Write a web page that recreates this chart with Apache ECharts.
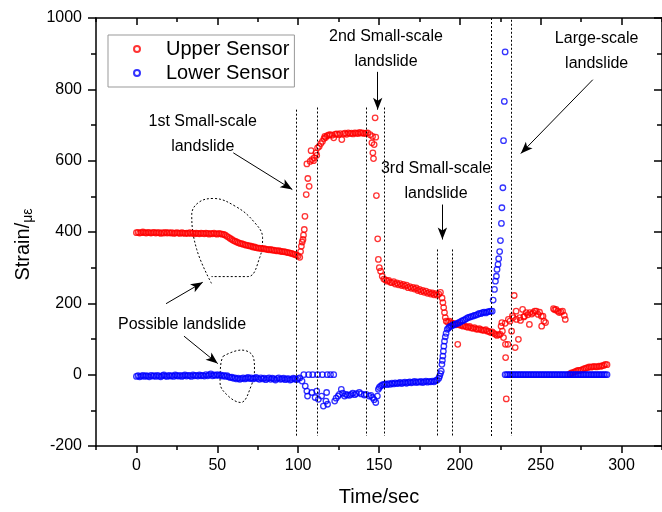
<!DOCTYPE html>
<html>
<head>
<meta charset="utf-8">
<script src="https://cdn.jsdelivr.net/npm/echarts@6.0.0/dist/echarts.min.js"></script>
<style>
  html, body { margin: 0; padding: 0; background: #fff; }
  #chart { width: 662px; height: 512px; }
</style>
</head>
<body>
<div id="chart"></div>
<script>
// tick positions
const xTicks = [0, 50, 100, 150, 200, 250, 300];
const xMinorTicks = [-25, 25, 75, 125, 175, 225, 275, 325];

// Upper Sensor (red)
const upperBase = [ // from t = 0, 1 s step
  398, 399, 397, 398, 400, 398, 397, 399, 398, 397, 398,
  399, 397, 398, 398, 396, 398, 397, 399, 397, 398,
  397, 398, 396, 397, 398, 397, 396, 398, 397, 396,
  397, 396, 398, 396, 397, 395, 397, 396, 395, 397,
  396, 395, 397, 396, 394, 396, 395, 397, 395, 394,
  396, 395, 394, 393, 391, 388, 385, 382, 379, 376,
  374, 372, 370, 368, 367, 366, 364, 363, 362, 361,
  360, 358, 358, 356, 355, 355, 354, 353, 353, 352,
  351, 350, 351, 349, 349, 348, 347, 348, 346, 345,
  345, 344, 343, 342, 341, 340, 338, 337, 335, 333,
  329
];
const upperRise1 = [
  [101.5, 345], [102, 360], [102.5, 372], [103, 379], [103.3, 391], [103.8, 407],
  [104.2, 444], [105, 505], [105.4, 591], [106, 550], [106.8, 528], [107.4, 598],
  [108, 628], [108.5, 603], [109.5, 600], [109.9, 608], [111, 622], [111.5, 615],
  [112, 636], [113, 640], [114, 648], [115, 654], [116, 662], [116.5, 668], [117, 665]
];
const upperPlateau = [ // from t = 118
  670, 672, 673, 671, 664, 674, 675, 673, 676, 659, 675, 677, 674,
  678, 676, 677, 675, 678, 677, 676, 679, 677, 678, 676, 677, 678
];
const upperDrop2 = [
  [144.5, 673], [145.6, 650], [146, 668], [146.2, 622], [146.6, 606], [147, 645],
  [147.6, 720], [148, 666], [148.4, 502], [149.2, 381], [149.6, 323], [150.2, 300],
  [151, 290], [152, 276], [153, 268]
];
const upperBand2 = [ // from t = 154
  266, 262, 264, 259, 258, 261, 254, 257, 252, 255, 250, 253, 248, 251, 244,
  247, 242, 245, 240, 243, 236, 239, 233, 236, 231, 234, 228, 231, 226, 229,
  224, 227, 223, 226, 231
];
const upperDrop3 = [
  [189, 215], [189.5, 202], [190, 188], [190.5, 174], [191, 160], [191.6, 150],
  [192.5, 148], [193.6, 150], [194.5, 146], [195.5, 144], [196.5, 143], [197.5, 140],
  [198.7, 85]
];
const upperBand3 = [ // from t = 199
  141, 139, 138, 136, 137, 134, 133, 135, 131, 130, 132, 128, 127, 129,
  126, 125, 124, 126, 122, 121, 118, 120, 116, 113, 110, 112, 113
];
const upperScatter = [
  [225.5, 136], [226, 146], [226.3, 122], [227, 104], [228, 144], [228.2, 85],
  [228.3, 48], [228.7, -68], [229.7, 85], [230, 155], [231, 150], [232, 122],
  [232.5, 165], [233, 160], [233.6, 222], [234.2, 76], [234.8, 178], [235, 155],
  [236.2, 99], [237, 160], [237.5, 152], [238.8, 183], [239.5, 162], [240, 164],
  [241, 174], [242, 168], [243, 141], [243.3, 174], [244.5, 170], [245.3, 174],
  [246.3, 178], [247.3, 178], [248.4, 169], [249.3, 175], [250.4, 164], [250.6, 136],
  [251.4, 164], [252, 150], [253, 146], [257.9, 185], [258.6, 182], [259.5, 183],
  [260.5, 178], [261.5, 174], [262.5, 176], [263.5, 178], [264.6, 166], [265.2, 155]
];
const upperTail = [ // from t = 268
  2, 5, 6, 8, 10, 12, 12, 13, 15, 17, 18, 20,
  22, 21, 22, 23, 22, 22, 24, 23, 25, 26, 29, 28
];

// Lower Sensor (blue)
const lowerBase = [ // from t = 0
  -5, -3, -6, -4, -2, -5, -3, -4, -6, -2, -4,
  -3, -5, -2, -4, -6, -3, -1, -4, -5, -2,
  -4, -3, -5, -1, -3, -4, -2, -5, -3, -1,
  -4, -2, -3, -5, -1, -3, -2, -4, -1, -3,
  -2, -4, 0, -3, -1, 2, -3, -1, -2, 0,
  -2, -1, -4, -2, -5, -3, -6, -8, -7, -10,
  -9, -12, -10, -13, -11, -9, -12, -10, -8, -11,
  -9, -12, -10, -8, -11, -13, -9, -12, -10, -14,
  -11, -9, -13, -10, -12, -15, -11, -9, -13, -12,
  -10, -14, -12, -11, -15, -13, -10, -12, -14, -11,
  -9
];
const lowerDip = [
  [102.4, -18], [103.5, 0], [104.4, -32], [105.4, -46], [105.8, -60], [106.5, 0],
  [108.5, -50], [109, 0], [110.5, -64], [111.5, -46], [112, 0], [112.5, -69],
  [114.5, -60], [115, 0], [115.6, -88], [117.2, -74], [117.6, -50], [118, 0],
  [118.2, -83], [120, 0], [122, 0], [122.6, -74], [123.5, -66], [124.7, -60],
  [125.5, -55], [126.7, -41], [127.5, -52], [128.7, -60], [129.5, -55], [130.5, -57],
  [131.8, -58], [132.8, -55], [133.8, -52], [135, -56], [136, -53], [137.8, -50],
  [139, -54], [140.9, -57], [142, -55], [143.9, -60], [145, -58], [146, -64],
  [147, -70], [148, -78], [149, -60], [149.6, -41], [150.2, -36], [151, -32],
  [152, -29], [153, -27]
];
const lowerBand2 = [ // from t = 154
  -26, -28, -25, -27, -24, -26, -23, -25, -24, -22, -25, -23, -21, -24, -22, -20, -23,
  -21, -19, -22, -20, -21, -19, -22, -20, -18, -21, -19, -20, -18, -20, -17, -15, -10
];
const lowerRise3 = [
  [187.5, -4], [188, 3], [188.5, 10], [188.9, 29], [189.2, 40], [189.5, 52],
  [189.8, 66], [190.1, 80], [190.5, 94], [191, 106], [191.5, 116], [192.2, 127],
  [193, 131], [193.6, 134], [194.5, 136], [195.5, 138]
];
const lowerBand3 = [ // from t = 196
  140, 141, 143, 145, 147, 150, 152, 154, 157, 160, 161, 163, 164,
  166, 167, 169, 172, 171, 174, 175, 173, 176, 177, 178, 178
];
const lowerRise4 = [
  [220.6, 209], [221.4, 239], [222, 262], [222.6, 276], [223, 295], [223.6, 309],
  [224, 325], [224.6, 345], [225.1, 376], [225.7, 424], [226, 468], [226.6, 524],
  [227, 656], [227.5, 766], [228, 905]
];
const lowerTail = [ // from t = 228
  0, 0, 0, 0, 0, 0, 0, 0, 0, 0, 0, 0, 0, 0, 0, 0,
  0, 0, 0, 0, 0, 0, 0, 0, 0, 0, 0, 0, 0, 0, 0, 0,
  0, 0, 0, 0, 0, 0, 0, 0, 0, 0, 0, 0, 0, 0, 0, 0,
  0, 0, 0, 0, 0, 0, 0, 0, 0, 0, 0, 0, 0, 0, 0, 0
];

// annotations (data coordinates)
const dashedLines = [
  [98.9, 743], [111.9, 749], [142.3, 749], [153.5, 749],
  [185.9, 351], [195.6, 351], [219.3, 1000], [231.7, 995]
];
const dashedBottom = -172;
const arrows = [
  [[59.9, 622], [96.4, 519]],
  [[149.2, 849], [149.2, 743]],
  [[189.2, 477], [189.2, 379]],
  [[282.2, 827], [237.7, 620]],
  [[18.3, 199], [41, 259]],
  [[29.4, 108], [50.3, 31]]
];
const notes = [
  ['1st Small-scale\nlandslide', 41, 675],
  ['2nd Small-scale\nlandslide', 154.3, 913],
  ['3rd Small-scale\nlandslide', 185.3, 543],
  ['Large-scale\nlandslide', 284.6, 908],
  ['Possible landslide', 28.2, 141]
];
const blobUpper = [
  [46.4, 256], [37.3, 351], [34.2, 449], [38.5, 483], [47.6, 494], [61.6, 471],
  [72.6, 429], [78, 384], [76.2, 328], [68.9, 275], [46.4, 275]
];
const blobLower = [
  [53.7, 52], [64.8, 69], [72, 52], [73, 15], [70.9, -32], [64.5, -78],
  [56.8, -60], [51.7, -22], [52.3, 34], [53.7, 52]
];

const band = (start, values) => values.map((v, i) => [start + i, v]);

const upperSensor = [].concat(
  band(0, upperBase), upperRise1, band(118, upperPlateau), upperDrop2,
  band(154, upperBand2), upperDrop3, band(199, upperBand3), upperScatter,
  band(268, upperTail)
);
const lowerSensor = [].concat(
  band(0, lowerBase), lowerDip, band(154, lowerBand2), lowerRise3,
  band(196, lowerBand3), lowerRise4, band(228, lowerTail)
);

const FONT = 'Liberation Sans, Arial, sans-serif';
const chart = echarts.init(document.getElementById('chart'));

const axisLine = { show: true, onZero: false, lineStyle: { color: '#000', width: 1.5 } };
const tickLine = { color: '#000', width: 1.5 };

const xBase = { type: 'value', min: -25, max: 325, interval: 25, splitLine: { show: false } };

const dotted = { color: '#000', width: 1, type: [2, 2] };

const option = {
  animation: false,
  grid: { left: 96, top: 18, width: 575, height: 428.5 },
  legend: {
    orient: 'vertical',
    left: 108,
    top: 35,
    padding: [4, 5, 4, 25],
    itemGap: 4,
    itemWidth: 48,
    itemHeight: 6,
    borderColor: '#999',
    borderWidth: 1,
    textStyle: { fontFamily: FONT, fontSize: 20, color: '#000', lineHeight: 20 },
    data: ['Upper Sensor', 'Lower Sensor']
  },
  xAxis: [
    Object.assign({}, xBase, {
      position: 'bottom',
      axisLine: axisLine,
      axisTick: { customValues: xTicks, length: 7, lineStyle: tickLine },
      axisLabel: { customValues: xTicks, margin: 12, fontFamily: FONT, fontSize: 16, color: '#000' },
      name: 'Time/sec',
      nameLocation: 'middle',
      nameGap: 41,
      nameTextStyle: { fontFamily: FONT, fontSize: 20, color: '#000' }
    }),
    Object.assign({}, xBase, {
      position: 'bottom',
      axisLine: { show: false, onZero: false },
      axisTick: { customValues: xMinorTicks, length: 4, lineStyle: tickLine },
      axisLabel: { show: false }
    }),
    Object.assign({}, xBase, {
      position: 'top',
      axisLine: axisLine,
      axisTick: { inside: true, customValues: xTicks, length: 7, lineStyle: tickLine },
      axisLabel: { show: false }
    }),
    Object.assign({}, xBase, {
      position: 'top',
      axisLine: { show: false, onZero: false },
      axisTick: { inside: true, customValues: xMinorTicks, length: 4, lineStyle: tickLine },
      axisLabel: { show: false }
    })
  ],
  yAxis: [
    {
      type: 'value', min: -200, max: 1000, interval: 200, position: 'left',
      splitLine: { show: false },
      axisLine: axisLine,
      axisTick: { length: 8, lineStyle: tickLine },
      minorTick: { show: true, splitNumber: 2, length: 5, lineStyle: tickLine },
      axisLabel: { margin: 14, fontFamily: FONT, fontSize: 16, color: '#000', formatter: v => String(v) },
      name: '{a|Strain/}{b|με}',
      nameLocation: 'middle',
      nameGap: 58,
      nameTextStyle: {
        padding: [0, 25, 0, 0],
        rich: {
          a: { fontFamily: FONT, fontSize: 20, color: '#000', verticalAlign: 'bottom' },
          b: { fontFamily: FONT, fontSize: 14, color: '#000', verticalAlign: 'bottom', padding: [0, 0, -2, 0] }
        }
      }
    },
    {
      type: 'value', min: -200, max: 1000, interval: 200, position: 'right',
      splitLine: { show: false },
      axisLine: axisLine,
      axisTick: { inside: true, length: 8, lineStyle: tickLine },
      minorTick: { show: true, splitNumber: 2, length: 5, lineStyle: tickLine },
      axisLabel: { show: false }
    }
  ],
  series: [
    {
      name: 'annotations',
      type: 'line',
      data: blobUpper,
      smooth: 0.4,
      symbol: 'none',
      silent: true,
      lineStyle: dotted,
      z: 1,
      markLine: {
        silent: true,
        symbol: 'none',
        label: { show: false },
        lineStyle: dotted,
        data: dashedLines.map(d => [{ coord: [d[0], d[1]] }, { coord: [d[0], dashedBottom] }])
          .concat(arrows.map(a => [
            { coord: a[0], symbol: 'none', lineStyle: { color: '#000', width: 1, type: 'solid' } },
            { coord: a[1], symbol: 'arrow', symbolSize: [7, 12] }
          ]))
      },
      markPoint: {
        silent: true,
        symbol: 'circle',
        symbolSize: 0,
        label: {
          show: true, position: 'inside', formatter: '{b}',
          fontFamily: FONT, fontSize: 16, lineHeight: 25, color: '#000'
        },
        data: notes.map(n => ({ name: n[0], coord: [n[1], n[2]] }))
      }
    },
    {
      name: 'blob2',
      type: 'line',
      data: blobLower,
      smooth: 0.4,
      symbol: 'none',
      silent: true,
      lineStyle: dotted,
      z: 1
    },
    {
      name: 'Upper Sensor',
      type: 'scatter',
      data: upperSensor,
      symbol: 'circle',
      symbolSize: 5.5,
      itemStyle: { color: 'rgba(255,255,255,0)', borderColor: '#ff0000', borderWidth: 1.3 },
      z: 3
    },
    {
      name: 'Lower Sensor',
      type: 'scatter',
      data: lowerSensor,
      symbol: 'circle',
      symbolSize: 5.5,
      itemStyle: { color: 'rgba(255,255,255,0)', borderColor: '#0000ff', borderWidth: 1.3 },
      z: 4
    }
  ]
};

chart.setOption(option);
</script>
</body>
</html>
